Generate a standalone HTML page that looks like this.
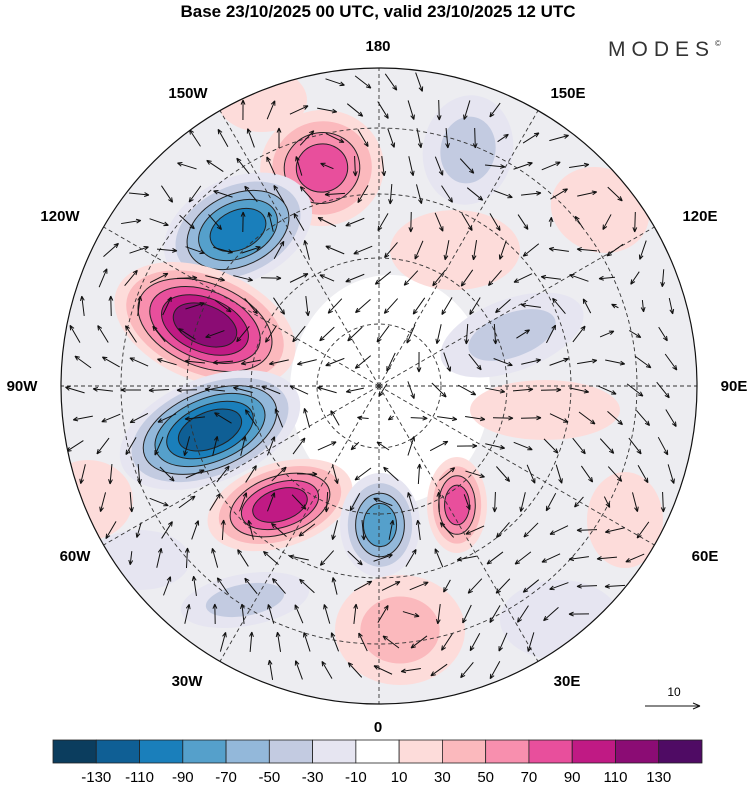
<!DOCTYPE html>
<html><head><meta charset="utf-8">
<style>
html,body{margin:0;padding:0;background:#fff;}
body{width:750px;height:783px;overflow:hidden;font-family:"Liberation Sans",sans-serif;}
svg text{font-family:"Liberation Sans",sans-serif;}
</style></head>
<body>
<svg id="chart" width="750" height="783" viewBox="0 0 750 783">
  <text x="378" y="17" text-anchor="middle" font-size="17" font-weight="bold">Base 23/10/2025 00 UTC, valid 23/10/2025 12 UTC</text>
  <text x="608" y="56" font-size="21" fill="#333" letter-spacing="6">MODES<tspan font-size="8" dy="-10">©</tspan></text>
  <defs><clipPath id="disk"><circle cx="379" cy="386" r="318"/></clipPath></defs>
  <g id="map" clip-path="url(#disk)">
    <circle cx="379" cy="386" r="318" fill="#ededf1"/>
    <ellipse cx="390" cy="390" rx="100" ry="115" fill="#ffffff"/>
  </g>
  <g id="blobs" clip-path="url(#disk)"></g>
  <g id="grid" fill="none" stroke="#333" stroke-width="0.9" stroke-dasharray="4,3"></g>
  <g id="arrows" clip-path="url(#disk)" stroke="#111" fill="#111" stroke-width="1"></g>
  <circle cx="379" cy="386" r="318" fill="none" stroke="#111" stroke-width="1.2"/>
  <g id="lonlabels" font-size="15" font-weight="bold" text-anchor="middle"></g>
  <g>
    <text x="674" y="696" font-size="12" text-anchor="middle">10</text>
    <line x1="645" y1="706" x2="700" y2="706" stroke="#111" stroke-width="1"/>
    <path d="M700,706 l-7,-3 M700,706 l-7,3" stroke="#111" stroke-width="1"/>
  </g>
  <g id="colorbar"></g>
</svg>
<script>
const NS="http://www.w3.org/2000/svg";
const CX=379, CY=386, R=318;
// colorbar data
const cbColors=["#0b3d5e","#0f5f95","#1a7fbb","#55a0cb","#93b8da","#c3cbe1","#e6e5f1","#ffffff","#fddcda","#fbb9bd","#f88fae","#e84f9c","#c01a84","#8b0c74","#4f0b64"];
const cbTicks=[-130,-110,-90,-70,-50,-30,-10,10,30,50,70,90,110,130];
// anomaly centres (image coords), sizes and values
const blobX=[322,238,205,210,280,380,457,400,245,262,468,512,455,600,545,625,88,560,140];
const blobY=[168,230,325,430,505,525,505,630,600,100,150,335,250,210,410,520,500,620,560];
const blobRX=[62,78,95,95,75,40,30,65,65,45,45,75,65,50,75,38,45,60,50];
const blobRY=[58,52,56,52,42,52,48,55,26,32,55,36,40,42,30,48,40,40,30];
const blobRot=[-10,-25,22,-22,-18,0,0,0,-10,0,10,-20,0,20,0,0,0,0,0];
const blobVal=[82,-100,118,-112,95,-72,72,32,-32,25,-42,-48,22,22,20,28,22,-25,-20];
const lonLabels=["180","150E","120E","90E","60E","30E","0","30W","60W","90W","120W","150W"];
const lonLabelX=[378,568,700,734,705,567,378,187,75,22,60,188];
const lonLabelY=[51,98,221,391,561,686,732,686,561,391,221,98];

function el(t,a,p){const e=document.createElementNS(NS,t);for(const k in a)e.setAttribute(k,a[k]);p.appendChild(e);return e;}
function colorFor(v){let i=0;while(i<cbTicks.length&&v>=cbTicks[i])i++;return cbColors[i];}

const cb=document.getElementById('colorbar');
const cbX0=53,cbW=649,cbY=740,cbH=23,seg=cbW/cbColors.length;
cbColors.forEach((c,i)=>{
  const r=el('rect',{x:cbX0+i*seg,y:cbY,width:seg,height:cbH,fill:c,stroke:"#222","stroke-width":0.8},cb);
  
  
});
cbTicks.forEach((t,i)=>{
  const tx=el('text',{x:cbX0+(i+1)*seg,y:782,"font-size":15,"text-anchor":"middle"},cb);
  tx.textContent=t;
  
  
});

const bg=document.getElementById('blobs');
blobVal.forEach((v,i)=>{
  const g=el('g',{transform:`rotate(${blobRot[i]} ${blobX[i]} ${blobY[i]})`},bg);
  
  
  const n=Math.floor((Math.abs(v)-10)/20)+1;
  const sgn=v<0?-1:1;
  for(let k=0;k<n;k++){
    const s=1-0.78*k/n;
    const lv=sgn*(10+20*k+1);
    el('ellipse',{cx:blobX[i],cy:blobY[i],rx:blobRX[i]*s,ry:blobRY[i]*s,fill:colorFor(lv),stroke:k>=2?"#222":"none","stroke-width":1},g);
  }
});

const gr=document.getElementById('grid');
[62,128,192,258].forEach(r=>el('circle',{cx:CX,cy:CY,r:r},gr));
for(let a=0;a<360;a+=30){const t=a*Math.PI/180;el('line',{x1:CX,y1:CY,x2:CX+R*Math.sin(t),y2:CY-R*Math.cos(t)},gr);}

const ll=document.getElementById('lonlabels');
lonLabels.forEach((s,i)=>{
  const t=el('text',{x:lonLabelX[i],y:lonLabelY[i]},ll);t.textContent=s;
  
  
});

const ag=document.getElementById('arrows');
for(let y=CY-R+14;y<CY+R;y+=28){
  for(let x=CX-R+14;x<CX+R;x+=28){
    const ox=x+((Math.round(y/28))%2?8:0);
    if(Math.hypot(ox-CX,y-CY)>R-8)continue;
    let u=0,w=0;
    blobVal.forEach((v,i)=>{
      const dx=ox-blobX[i],dy=y-blobY[i];
      const d2=(dx*dx+dy*dy)/(blobRX[i]*blobRY[i]*2.5)+0.3;
      const f=v/d2;
      u+=-dy*f/100; w+=dx*f/100;
    });
    u+=1.2;
    let m=Math.hypot(u,w)||1; const L=Math.min(20,6+m*1.2);
    u=u/m*L; w=w/m*L;
    const x1=ox-u/2,y1=y-w/2,x2=ox+u/2,y2=y+w/2;
    const a=Math.atan2(w,u);
    el('path',{d:`M${x1},${y1}L${x2},${y2}M${x2},${y2}l${-5*Math.cos(a-0.4)},${-5*Math.sin(a-0.4)}M${x2},${y2}l${-5*Math.cos(a+0.4)},${-5*Math.sin(a+0.4)}`,fill:"none"},ag);
  }
}
</script>
</body></html>
